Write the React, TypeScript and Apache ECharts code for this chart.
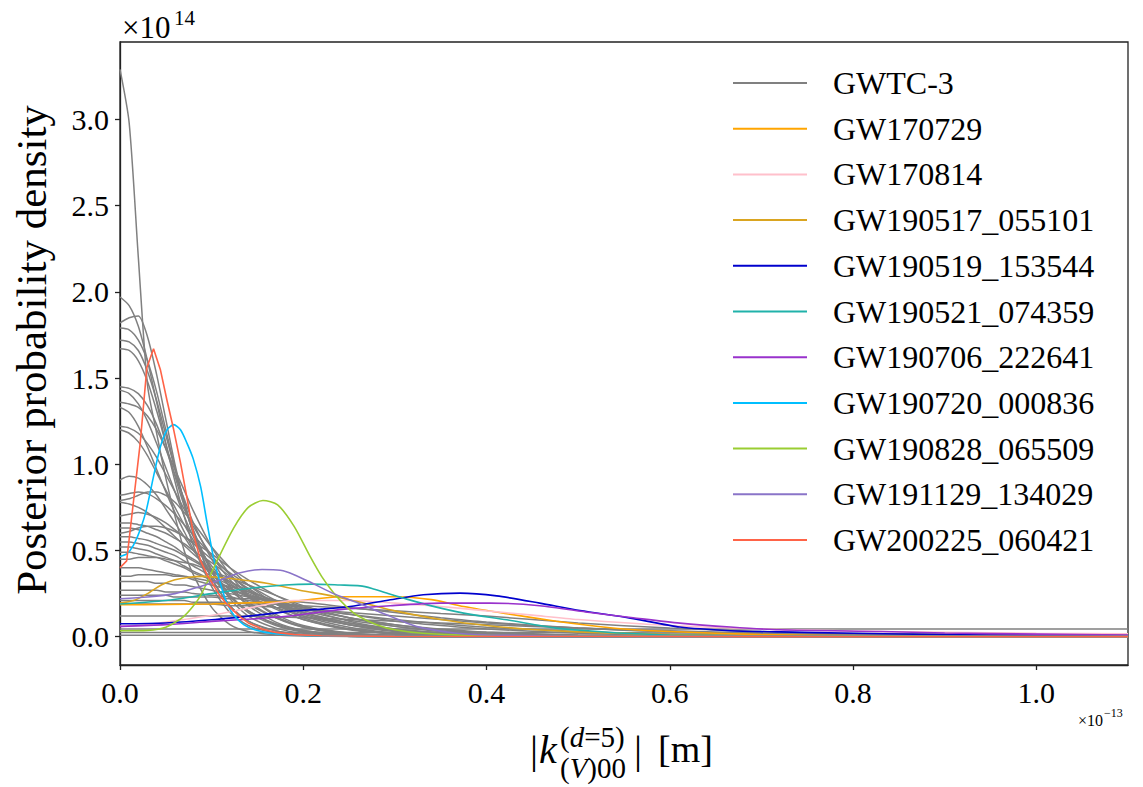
import React, { useEffect, useRef } from "react";
import * as echarts from "echarts";

// ---------- data ----------
const X_GRID = [0, 0.01, 0.02, 0.03, 0.04, 0.05, 0.06, 0.07, 0.08, 0.1, 0.12, 0.14, 0.17, 0.2, 0.25, 0.3, 0.35, 0.4, 0.5, 0.6, 0.7, 0.8, 0.9, 1.0, 1.1];

// GWTC-3 posterior densities (×1e14), sampled on X_GRID
const GWTC3_CURVES: number[][] = [
  [3.29, 2.98, 2.2, 1.46, 1.18, 0.92, 0.7, 0.5, 0.36, 0.17, 0.07, 0.03, 0.01, 0.004, 0.001, 0, 0, 0, 0, 0, 0, 0, 0, 0, 0],
  [1.97, 1.92, 1.8, 1.6, 1.36, 1.12, 0.9, 0.7, 0.53, 0.29, 0.14, 0.065, 0.022, 0.008, 0.002, 0, 0, 0, 0, 0, 0, 0, 0, 0, 0],
  [1.82, 1.85, 1.86, 1.74, 1.52, 1.26, 1.0, 0.78, 0.6, 0.34, 0.18, 0.09, 0.033, 0.012, 0.003, 0.001, 0, 0, 0, 0, 0, 0, 0, 0, 0],
  [1.79, 1.78, 1.72, 1.6, 1.42, 1.2, 0.98, 0.78, 0.6, 0.34, 0.18, 0.09, 0.035, 0.013, 0.003, 0.001, 0, 0, 0, 0, 0, 0, 0, 0, 0],
  [1.72, 1.71, 1.66, 1.54, 1.37, 1.17, 0.97, 0.78, 0.62, 0.38, 0.22, 0.12, 0.05, 0.02, 0.005, 0.001, 0, 0, 0, 0, 0, 0, 0, 0, 0],
  [1.67, 1.66, 1.6, 1.48, 1.31, 1.12, 0.93, 0.76, 0.61, 0.39, 0.24, 0.14, 0.065, 0.028, 0.008, 0.002, 0, 0, 0, 0, 0, 0, 0, 0, 0],
  [1.45, 1.44, 1.41, 1.34, 1.23, 1.09, 0.94, 0.8, 0.66, 0.45, 0.29, 0.18, 0.085, 0.038, 0.011, 0.003, 0.001, 0, 0, 0, 0, 0, 0, 0, 0],
  [1.43, 1.41, 1.35, 1.25, 1.12, 0.98, 0.84, 0.7, 0.58, 0.38, 0.24, 0.15, 0.07, 0.03, 0.009, 0.002, 0, 0, 0, 0, 0, 0, 0, 0, 0],
  [1.36, 1.35, 1.33, 1.28, 1.2, 1.09, 0.97, 0.85, 0.73, 0.52, 0.36, 0.24, 0.12, 0.055, 0.017, 0.005, 0.001, 0, 0, 0, 0, 0, 0, 0, 0],
  [1.33, 1.3, 1.22, 1.1, 0.97, 0.84, 0.72, 0.61, 0.51, 0.35, 0.23, 0.15, 0.075, 0.036, 0.012, 0.004, 0.001, 0, 0, 0, 0, 0, 0, 0, 0],
  [1.22, 1.21, 1.18, 1.12, 1.04, 0.94, 0.84, 0.74, 0.64, 0.47, 0.33, 0.23, 0.13, 0.065, 0.022, 0.007, 0.002, 0, 0, 0, 0, 0, 0, 0, 0],
  [1.2, 1.18, 1.13, 1.05, 0.95, 0.85, 0.75, 0.65, 0.56, 0.41, 0.29, 0.2, 0.11, 0.055, 0.018, 0.006, 0.002, 0, 0, 0, 0, 0, 0, 0, 0],
  [0.91, 0.93, 0.92, 0.88, 0.82, 0.74, 0.66, 0.58, 0.5, 0.37, 0.27, 0.19, 0.11, 0.06, 0.02, 0.008, 0.003, 0.001, 0, 0, 0, 0, 0, 0, 0],
  [0.82, 0.83, 0.84, 0.83, 0.8, 0.76, 0.71, 0.65, 0.59, 0.47, 0.36, 0.27, 0.17, 0.1, 0.04, 0.015, 0.005, 0.002, 0, 0, 0, 0, 0, 0, 0],
  [0.79, 0.8, 0.82, 0.84, 0.84, 0.82, 0.78, 0.72, 0.66, 0.52, 0.4, 0.3, 0.19, 0.11, 0.045, 0.016, 0.005, 0.002, 0, 0, 0, 0, 0, 0, 0],
  [0.78, 0.77, 0.75, 0.72, 0.68, 0.63, 0.58, 0.53, 0.48, 0.39, 0.31, 0.24, 0.16, 0.1, 0.045, 0.02, 0.008, 0.003, 0, 0, 0, 0, 0, 0, 0],
  [0.7, 0.71, 0.72, 0.71, 0.69, 0.66, 0.62, 0.58, 0.54, 0.45, 0.37, 0.3, 0.21, 0.14, 0.07, 0.03, 0.012, 0.005, 0.001, 0, 0, 0, 0, 0, 0],
  [0.66, 0.66, 0.65, 0.64, 0.62, 0.6, 0.57, 0.54, 0.5, 0.43, 0.35, 0.28, 0.19, 0.12, 0.055, 0.022, 0.008, 0.003, 0, 0, 0, 0, 0, 0, 0],
  [0.63, 0.63, 0.62, 0.6, 0.58, 0.55, 0.52, 0.48, 0.45, 0.38, 0.32, 0.26, 0.19, 0.13, 0.07, 0.035, 0.016, 0.007, 0.001, 0, 0, 0, 0, 0, 0],
  [0.6, 0.61, 0.63, 0.64, 0.64, 0.63, 0.61, 0.58, 0.55, 0.48, 0.4, 0.33, 0.24, 0.17, 0.09, 0.045, 0.02, 0.008, 0.001, 0, 0, 0, 0, 0, 0],
  [0.58, 0.58, 0.57, 0.56, 0.54, 0.52, 0.5, 0.47, 0.44, 0.38, 0.32, 0.27, 0.2, 0.14, 0.08, 0.04, 0.02, 0.01, 0.002, 0, 0, 0, 0, 0, 0],
  [0.55, 0.55, 0.54, 0.53, 0.51, 0.49, 0.47, 0.44, 0.41, 0.35, 0.3, 0.25, 0.19, 0.14, 0.08, 0.045, 0.024, 0.012, 0.003, 0.001, 0, 0, 0, 0, 0],
  [0.52, 0.52, 0.51, 0.5, 0.48, 0.46, 0.44, 0.41, 0.38, 0.33, 0.28, 0.23, 0.17, 0.12, 0.07, 0.04, 0.02, 0.01, 0.002, 0, 0, 0, 0, 0, 0],
  [0.49, 0.49, 0.48, 0.47, 0.46, 0.44, 0.42, 0.4, 0.37, 0.33, 0.28, 0.24, 0.19, 0.15, 0.095, 0.06, 0.035, 0.02, 0.006, 0.002, 0, 0, 0, 0, 0],
  [0.45, 0.45, 0.46, 0.46, 0.46, 0.45, 0.44, 0.43, 0.42, 0.38, 0.34, 0.3, 0.24, 0.18, 0.11, 0.06, 0.03, 0.014, 0.003, 0, 0, 0, 0, 0, 0],
  [0.4, 0.4, 0.4, 0.39, 0.38, 0.37, 0.36, 0.35, 0.33, 0.3, 0.27, 0.24, 0.2, 0.16, 0.11, 0.07, 0.045, 0.027, 0.01, 0.003, 0.001, 0, 0, 0, 0],
  [0.35, 0.35, 0.36, 0.36, 0.36, 0.36, 0.35, 0.35, 0.34, 0.32, 0.29, 0.26, 0.21, 0.17, 0.11, 0.07, 0.04, 0.022, 0.006, 0.001, 0, 0, 0, 0, 0],
  [0.32, 0.32, 0.32, 0.32, 0.31, 0.31, 0.3, 0.3, 0.29, 0.27, 0.25, 0.23, 0.2, 0.17, 0.13, 0.09, 0.065, 0.045, 0.02, 0.008, 0.003, 0.001, 0, 0, 0],
  [0.27, 0.27, 0.27, 0.27, 0.27, 0.26, 0.26, 0.26, 0.25, 0.24, 0.23, 0.21, 0.19, 0.17, 0.13, 0.1, 0.075, 0.055, 0.03, 0.015, 0.007, 0.003, 0.001, 0, 0],
  [0.24, 0.24, 0.24, 0.24, 0.24, 0.24, 0.23, 0.23, 0.23, 0.23, 0.22, 0.22, 0.21, 0.2, 0.17, 0.14, 0.11, 0.085, 0.05, 0.027, 0.014, 0.007, 0.003, 0.001, 0],
  [0.21, 0.21, 0.21, 0.21, 0.21, 0.21, 0.21, 0.21, 0.2, 0.2, 0.2, 0.19, 0.19, 0.18, 0.165, 0.15, 0.135, 0.12, 0.08, 0.05, 0.03, 0.015, 0.008, 0.004, 0.002],
  [0.19, 0.19, 0.19, 0.19, 0.19, 0.19, 0.19, 0.19, 0.19, 0.19, 0.18, 0.18, 0.17, 0.16, 0.14, 0.12, 0.1, 0.08, 0.05, 0.03, 0.017, 0.009, 0.005, 0.002, 0.001],
  [0.12, 0.12, 0.12, 0.12, 0.12, 0.12, 0.12, 0.12, 0.12, 0.12, 0.12, 0.12, 0.115, 0.11, 0.1, 0.09, 0.08, 0.07, 0.05, 0.034, 0.022, 0.014, 0.009, 0.006, 0.004],
  [0.045, 0.045, 0.045, 0.045, 0.045, 0.045, 0.045, 0.045, 0.045, 0.045, 0.045, 0.045, 0.045, 0.045, 0.045, 0.045, 0.045, 0.045, 0.045, 0.045, 0.045, 0.045, 0.045, 0.045, 0.045],
  [0.025, 0.025, 0.025, 0.025, 0.025, 0.025, 0.025, 0.025, 0.025, 0.025, 0.025, 0.025, 0.025, 0.025, 0.025, 0.025, 0.025, 0.025, 0.024, 0.022, 0.02, 0.018, 0.016, 0.014, 0.012],
  [0.008, 0.008, 0.008, 0.008, 0.008, 0.008, 0.008, 0.008, 0.008, 0.008, 0.008, 0.008, 0.008, 0.008, 0.008, 0.008, 0.008, 0.008, 0.008, 0.008, 0.008, 0.008, 0.008, 0.008, 0.008],
];

// individual events: [x (×1e-13 m), density (×1e14)]
const GW170729 = [[0, 0.185], [0.05, 0.187], [0.1, 0.19], [0.15, 0.198], [0.19, 0.205], [0.24, 0.232], [0.3, 0.232], [0.34, 0.215], [0.375, 0.175], [0.42, 0.135], [0.476, 0.09], [0.513, 0.065], [0.55, 0.045], [0.6, 0.03], [0.7, 0.012], [0.8, 0.005], [0.9, 0.002], [1.1, 0.001]];
const GW170814 = [[0, 0.06], [0.03, 0.07], [0.067, 0.098], [0.104, 0.127], [0.14, 0.166], [0.19, 0.21], [0.25, 0.21], [0.3, 0.195], [0.35, 0.175], [0.4, 0.15], [0.45, 0.125], [0.5, 0.1], [0.6, 0.065], [0.7, 0.045], [0.8, 0.033], [0.9, 0.026], [1.0, 0.02], [1.1, 0.017]];
const GW190517_055101 = [[0, 0.195], [0.015, 0.21], [0.03, 0.25], [0.045, 0.3], [0.06, 0.33], [0.075, 0.345], [0.09, 0.35], [0.105, 0.345], [0.125, 0.335], [0.16, 0.31], [0.196, 0.27], [0.233, 0.235], [0.27, 0.19], [0.3, 0.15], [0.35, 0.1], [0.4, 0.065], [0.45, 0.042], [0.5, 0.028], [0.6, 0.012], [0.7, 0.005], [0.8, 0.002], [1.1, 0.001]];
const GW190519_153544 = [[0, 0.075], [0.05, 0.08], [0.1, 0.098], [0.15, 0.125], [0.185, 0.147], [0.22, 0.16], [0.251, 0.175], [0.295, 0.214], [0.331, 0.243], [0.371, 0.253], [0.411, 0.237], [0.458, 0.195], [0.502, 0.152], [0.557, 0.108], [0.611, 0.056], [0.666, 0.035], [0.72, 0.028], [0.8, 0.02], [0.9, 0.012], [1.0, 0.008], [1.1, 0.005]];
const GW190521_074359 = [[0, 0.19], [0.05, 0.21], [0.1, 0.25], [0.14, 0.28], [0.18, 0.3], [0.21, 0.305], [0.24, 0.3], [0.262, 0.295], [0.275, 0.28], [0.29, 0.255], [0.313, 0.218], [0.342, 0.176], [0.375, 0.137], [0.422, 0.098], [0.476, 0.05], [0.514, 0.033], [0.55, 0.02], [0.6, 0.01], [0.7, 0.004], [1.1, 0.001]];
const GW190706_222641 = [[0, 0.06], [0.05, 0.07], [0.1, 0.089], [0.15, 0.105], [0.185, 0.12], [0.24, 0.157], [0.295, 0.18], [0.349, 0.195], [0.404, 0.195], [0.458, 0.18], [0.513, 0.14], [0.56, 0.11], [0.611, 0.079], [0.666, 0.056], [0.72, 0.04], [0.83, 0.03], [0.9, 0.022], [1.0, 0.015], [1.1, 0.01]];
const GW190720_000836 = [[0, 0.465], [0.0073, 0.48], [0.0146, 0.53], [0.022, 0.62], [0.029, 0.74], [0.0366, 0.93], [0.044, 1.1], [0.0513, 1.2], [0.0586, 1.23], [0.066, 1.2], [0.0733, 1.12], [0.08, 1.03], [0.088, 0.87], [0.095, 0.66], [0.102, 0.46], [0.11, 0.3], [0.117, 0.19], [0.125, 0.12], [0.135, 0.07], [0.147, 0.04], [0.165, 0.02], [0.2, 0.008], [0.3, 0.002], [1.1, 0.0005]];
const GW190828_065509 = [[0, 0.035], [0.03, 0.037], [0.05, 0.055], [0.07, 0.12], [0.087, 0.23], [0.105, 0.43], [0.124, 0.63], [0.14, 0.75], [0.156, 0.79], [0.172, 0.765], [0.19, 0.64], [0.207, 0.47], [0.22, 0.35], [0.233, 0.255], [0.247, 0.175], [0.26, 0.12], [0.28, 0.07], [0.3, 0.04], [0.33, 0.02], [0.38, 0.008], [0.5, 0.003], [1.1, 0.001]];
const GW191129_134029 = [[0, 0.22], [0.03, 0.23], [0.06, 0.25], [0.087, 0.29], [0.11, 0.33], [0.13, 0.37], [0.155, 0.39], [0.175, 0.385], [0.19, 0.36], [0.21, 0.31], [0.233, 0.25], [0.258, 0.2], [0.28, 0.15], [0.295, 0.118], [0.315, 0.075], [0.331, 0.05], [0.367, 0.02], [0.4, 0.01], [0.5, 0.003], [1.1, 0.001]];
const GW200225_060421 = [[0, 0.4], [0.0073, 0.44], [0.0146, 0.78], [0.022, 1.12], [0.0293, 1.56], [0.0366, 1.67], [0.044, 1.55], [0.0513, 1.37], [0.0586, 1.2], [0.066, 1.01], [0.0733, 0.8], [0.08, 0.6], [0.088, 0.44], [0.095, 0.36], [0.103, 0.29], [0.11, 0.23], [0.12, 0.17], [0.13, 0.12], [0.14, 0.08], [0.155, 0.045], [0.17, 0.025], [0.19, 0.012], [0.22, 0.006], [0.3, 0.002], [0.5, 0.001], [1.1, 0.0005]];

const EVENT_NAMES = ["GW170729", "GW170814", "GW190517_055101", "GW190519_153544", "GW190521_074359", "GW190706_222641", "GW190720_000836", "GW190828_065509", "GW191129_134029", "GW200225_060421"];
const EVENT_DATA = [GW170729, GW170814, GW190517_055101, GW190519_153544, GW190521_074359, GW190706_222641, GW190720_000836, GW190828_065509, GW191129_134029, GW200225_060421];
const EVENT_COLORS = ["#ffa500", "#ffc0cb", "#daa520", "#0000cd", "#20b2aa", "#9932cc", "#00bfff", "#9acd32", "#8a74c8", "#ff6347"];

const X_TICKS = [0, 0.2, 0.4, 0.6, 0.8, 1.0];
const Y_TICKS = [0, 0.5, 1.0, 1.5, 2.0, 2.5, 3.0];
const X_RANGE = [0, 1.1];
const Y_RANGE = [-0.164, 3.449];

const FONT = "'Liberation Serif', 'Times New Roman', serif";
const GRAY = "#808080";

export default function App() {
  const ref = useRef<HTMLDivElement>(null);

  useEffect(() => {
    if (!ref.current) return;
    const chart = echarts.init(ref.current, null, { renderer: "svg" });

    const graySeries = GWTC3_CURVES.map((c) => ({
      type: "line",
      name: "GWTC-3",
      data: X_GRID.map((x, i) => [x, c[i]]),
      symbol: "none",
      showSymbol: false,
      smooth: 0.25,
      silent: true,
      lineStyle: { width: 1.5, color: GRAY },
      itemStyle: { color: GRAY },
    }));

    const eventSeries = EVENT_NAMES.map((name, k) => ({
      type: "line",
      name,
      data: EVENT_DATA[k],
      symbol: "none",
      showSymbol: false,
      smooth: name === "GW200225_060421" ? false : 0.25,
      silent: true,
      lineStyle: { width: 1.6, color: EVENT_COLORS[k] },
      itemStyle: { color: EVENT_COLORS[k] },
    }));

    const tickStyle = { color: "#222", width: 1.3 };
    const txt = (x: number, y: number, text: string, fontSize: number, extra: any = {}) => ({
      type: "text",
      x,
      y,
      silent: true,
      style: { text, fontFamily: FONT, fontSize, fill: "#000", align: "left", verticalAlign: "middle", ...extra },
    });

    chart.setOption({
      animation: false,
      backgroundColor: "#ffffff",
      grid: {
        left: 120,
        top: 42,
        width: 1008,
        height: 623,
        show: true,
        borderColor: "#222",
        borderWidth: 1.3,
        backgroundColor: "transparent",
      },
      legend: {
        show: true,
        data: ["GWTC-3", ...EVENT_NAMES],
        orient: "vertical",
        left: 733,
        top: 67,
        padding: 0,
        itemWidth: 74,
        itemHeight: 2,
        itemGap: 13.7,
        icon: "rect",
        selectedMode: false,
        textStyle: {
          fontFamily: FONT,
          fontSize: 32,
          lineHeight: 32,
          color: "#000",
          padding: [0, 0, 0, 21],
        },
      },
      xAxis: {
        type: "value",
        min: X_RANGE[0],
        max: X_RANGE[1],
        axisLine: { show: true, onZero: false, lineStyle: tickStyle },
        axisTick: { show: true, inside: false, length: 5, lineStyle: tickStyle, customValues: X_TICKS },
        axisLabel: {
          customValues: X_TICKS,
          formatter: (v: number) => v.toFixed(1),
          fontFamily: FONT,
          fontSize: 30,
          color: "#000",
          margin: 12,
        },
        splitLine: { show: false },
      },
      yAxis: {
        type: "value",
        min: Y_RANGE[0],
        max: Y_RANGE[1],
        axisLine: { show: true, onZero: false, lineStyle: tickStyle },
        axisTick: { show: true, inside: false, length: 5, lineStyle: tickStyle, customValues: Y_TICKS },
        axisLabel: {
          customValues: Y_TICKS,
          formatter: (v: number) => v.toFixed(1),
          fontFamily: FONT,
          fontSize: 30,
          color: "#000",
          margin: 11,
        },
        splitLine: { show: false },
      },
      graphic: [
        txt(122, 27, "×10", 31),
        txt(174, 18, "14", 21),
        { type: "text", x: 31, y: 350, rotation: Math.PI / 2, silent: true, style: { text: "Posterior probability density", fontFamily: FONT, fontSize: 43, fill: "#000", align: "center", verticalAlign: "middle" } },
        // x-axis label |k^{(d=5)}_{(V)00}| [m]
        txt(530, 749, "|", 40),
        txt(539, 749, "k", 40, { fontStyle: "italic" }),
        {
          type: "text", x: 560, y: 737, silent: true,
          style: {
            text: "{n|(}{i|d}{n|=5)}", fontFamily: FONT, fontSize: 29, fill: "#000", align: "left", verticalAlign: "middle",
            rich: { n: { fontFamily: FONT, fontSize: 29 }, i: { fontFamily: FONT, fontSize: 29, fontStyle: "italic" } },
          },
        },
        {
          type: "text", x: 560, y: 768, silent: true,
          style: {
            text: "{n|(}{i|V}{n|)00}", fontFamily: FONT, fontSize: 29, fill: "#000", align: "left", verticalAlign: "middle",
            rich: { n: { fontFamily: FONT, fontSize: 29 }, i: { fontFamily: FONT, fontSize: 29, fontStyle: "italic" } },
          },
        },
        txt(634, 749, "|", 40),
        txt(658, 749, "[m]", 38),
        // offset text ×10^-13
        txt(1078, 720, "×10", 16),
        txt(1104, 713, "−13", 12),
      ],
      series: [...graySeries, ...eventSeries],
    });

    return () => chart.dispose();
  }, []);

  return (
    <div
      ref={ref}
      style={{ position: "fixed", left: 0, top: 0, width: 1143, height: 787, background: "#fff" }}
    />
  );
}
